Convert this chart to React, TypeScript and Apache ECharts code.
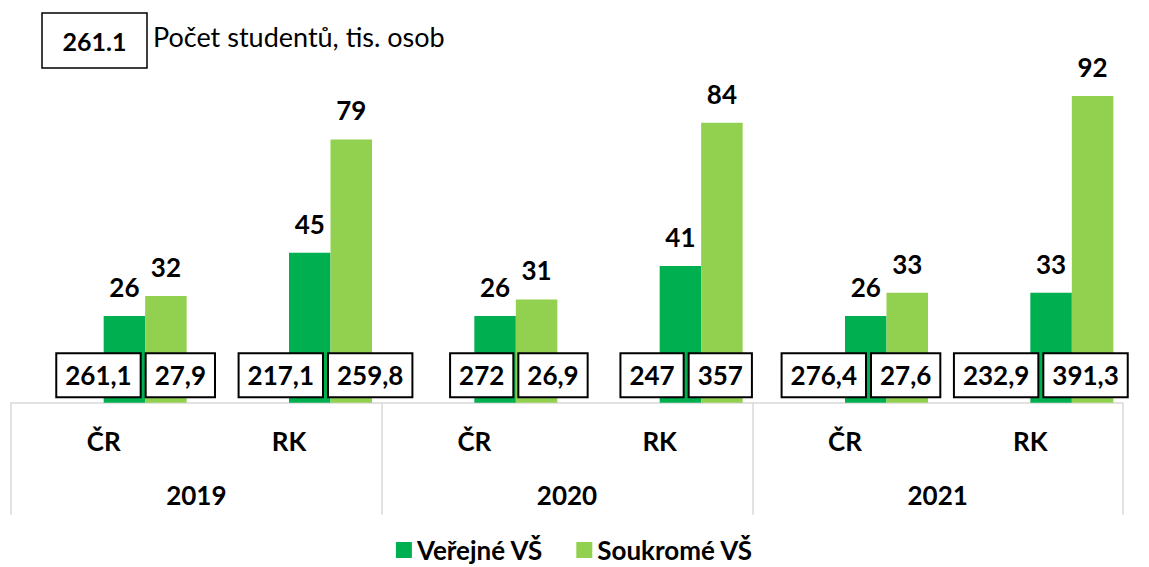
import { useEffect, useRef } from "react";
import * as echarts from "echarts";

const categories = ["ČR", "RK", "ČR", "RK", "ČR", "RK"];
const years = ["2019", "2020", "2021"];
const seriesNames = ["Veřejné VŠ", "Soukromé VŠ"];
// share values shown above bars
const publicValues = [26, 45, 26, 41, 26, 33];
const privateValues = [32, 79, 31, 84, 33, 92];
// number of students, thousands (boxed labels)
const publicStudents = [261.1, 217.1, 272, 247, 276.4, 232.9];
const privateStudents = [27.9, 259.8, 26.9, 357, 27.6, 391.3];
const headerExample = "261.1";
const headerTitle = "Počet studentů, tis. osob";

// layout: horizontal shift (px) of the boxed labels from each category centre
const boxShift = [36, 33, 38, 23, 20, 7];

const FONT = "Lato, 'Open Sans', sans-serif";
const DARK = "#00B050";
const LIGHT = "#92D050";

const fmt = (v: number) => String(v).replace(".", ",");

export default function App() {
  const ref = useRef<HTMLDivElement>(null);
  useEffect(() => {
    if (!ref.current) return;
    const chart = echarts.init(ref.current, null, { renderer: "svg" });
    const valueLabel = {
      show: true,
      position: "top",
      distance: 16,
      fontFamily: FONT,
      fontSize: 26,
      fontWeight: "bold",
      color: "#000",
    };
    const boxStyle = {
      fontFamily: FONT,
      fontSize: 26,
      fontWeight: "bold",
      fill: "#000",
      backgroundColor: "#fff",
      borderColor: "#000",
      borderWidth: 2,
      padding: [6, 8, 6, 8],
      lineHeight: 30,
      verticalAlign: "middle",
    };
    chart.setOption({
      animation: false,
      grid: { left: 11, right: 26, top: 69.4, bottom: 164.3 },
      legend: {
        data: seriesNames,
        left: "center",
        top: 537,
        padding: 0,
        icon: "rect",
        itemWidth: 16,
        itemHeight: 16,
        itemGap: 33,
        textStyle: { fontFamily: FONT, fontSize: 26, fontWeight: "bold", color: "#000", lineHeight: 26 },
      },
      graphic: [
        {
          type: "rect",
          shape: { x: 42, y: 13, width: 105, height: 55 },
          style: { fill: "#fff", stroke: "#000", lineWidth: 1.5 },
        },
        {
          type: "text",
          x: 94.5,
          y: 41,
          style: {
            text: headerExample,
            align: "center",
            verticalAlign: "middle",
            fontFamily: FONT,
            fontSize: 25,
            fontWeight: "bold",
            fill: "#000",
          },
        },
        {
          type: "text",
          x: 153,
          y: 36,
          style: {
            text: headerTitle,
            align: "left",
            verticalAlign: "middle",
            fontFamily: FONT,
            fontSize: 27,
            fill: "#000",
          },
        },
      ],
      xAxis: [
        {
          type: "category",
          data: categories,
          position: "bottom",
          offset: 0,
          axisLine: { lineStyle: { color: "#d9d9d9", width: 1.5 } },
          axisTick: { show: false },
          axisLabel: {
            interval: 0,
            margin: 25,
            fontFamily: FONT,
            fontSize: 26,
            fontWeight: "bold",
            color: "#000",
          },
        },
        {
          type: "category",
          data: years,
          position: "bottom",
          offset: 0,
          axisLine: { show: false },
          axisTick: {
            show: true,
            interval: 0,
            length: 112,
            lineStyle: { color: "#d9d9d9", width: 1.5 },
          },
          axisLabel: {
            interval: 0,
            margin: 79,
            fontFamily: FONT,
            fontSize: 26,
            fontWeight: "bold",
            color: "#000",
          },
        },
      ],
      yAxis: { type: "value", min: 0, max: 100, show: false, splitLine: { show: false } },
      series: [
        { name: "slotA", type: "bar", barWidth: 41.5, barGap: "0%", data: categories.map(() => "-") },
        { name: "slotB", type: "bar", barWidth: 41.5, barGap: "0%", data: categories.map(() => "-") },
        {
          name: seriesNames[0],
          type: "bar",
          barWidth: 41.5,
          barGap: "0%",
          itemStyle: { color: DARK },
          label: valueLabel,
          data: publicValues,
        },
        {
          name: seriesNames[1],
          type: "bar",
          barWidth: 41.5,
          barGap: "0%",
          itemStyle: { color: LIGHT },
          label: valueLabel,
          data: privateValues,
        },
        {
          name: "students",
          type: "custom",
          z: 10,
          clip: false,
          silent: true,
          data: categories.map((_, i) => [i, 0]),
          encode: { x: 0, y: 1 },
          renderItem: (params: any, api: any) => {
            const i = api.value(0);
            const [cx, cy] = api.coord([i, 0]);
            const right = cx + boxShift[i];
            const y = cy - 27.5;
            return {
              type: "group",
              children: [
                {
                  type: "text",
                  style: { ...boxStyle, text: fmt(publicStudents[i]), x: right, y, align: "right" },
                },
                {
                  type: "text",
                  style: { ...boxStyle, text: fmt(privateStudents[i]), x: right + 7, y, align: "left" },
                },
              ],
            };
          },
        },
      ],
    });
    return () => chart.dispose();
  }, []);
  return (
    <div
      ref={ref}
      style={{ position: "absolute", left: 0, top: 0, width: 1149, height: 567, overflow: "hidden" }}
    />
  );
}
